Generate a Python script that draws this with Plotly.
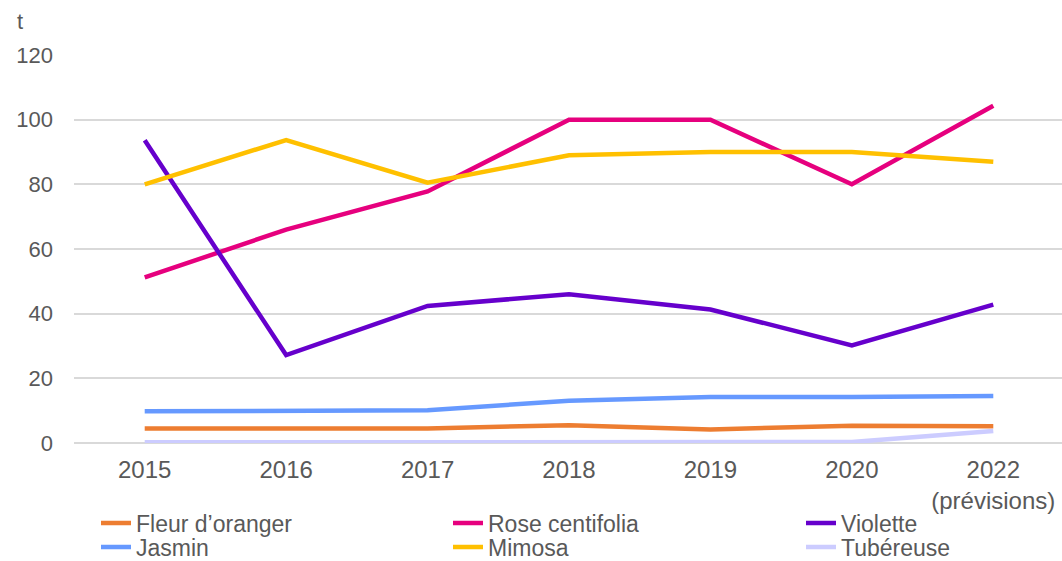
import plotly.graph_objects as go

categories = ["2015", "2016", "2017", "2018", "2019", "2020", "2022<br>(prévisions)"]

fleur_oranger = [4.5, 4.5, 4.5, 5.5, 4.2, 5.3, 5.2]
rose_centifolia = [51.2, 66, 77.8, 100, 100, 80, 104.3]
violette = [93.6, 27.2, 42.4, 46, 41.3, 30.2, 42.8]
jasmin = [9.8, 9.8, 10.1, 13.1, 14.2, 14.2, 14.5]
mimosa = [80, 93.7, 80.5, 89, 90, 90, 87]
tubereuse = [0.2, 0.2, 0.2, 0.3, 0.3, 0.3, 3.7]

series = [
    ("Fleur d’oranger", fleur_oranger, "#ED7D31"),
    ("Rose centifolia", rose_centifolia, "#E6007E"),
    ("Violette", violette, "#6600CC"),
    ("Jasmin", jasmin, "#6699FF"),
    ("Mimosa", mimosa, "#FFC000"),
    ("Tubéreuse", tubereuse, "#CCCCFF"),
]

x_idx = list(range(len(categories)))
legend_ids = ["legend", "legend2", "legend3", "legend4", "legend5", "legend6"]

fig = go.Figure()
for (name, vals, color), lg in zip(series, legend_ids):
    fig.add_trace(go.Scatter(
        x=x_idx, y=vals, name=name, mode="lines",
        line=dict(color=color, width=4.5), legend=lg,
    ))

font_family = "Liberation Sans, Arial, sans-serif"
grey = "#595959"

PL, PR, PT, PB = 74, 1062, 55, 443  # plot area pixel edges
PH = PB - PT
PW = PR - PL

def legend_cfg(xpix, ycenter):
    return dict(
        orientation="v", x=(xpix - PL) / PW, y=(PB - ycenter) / PH,
        xanchor="left", yanchor="middle",
        font=dict(size=23, color=grey, family=font_family),
        itemwidth=30, tracegroupgap=0,
        bgcolor="rgba(0,0,0,0)",
    )

col_x = [96, 448, 801]
row_y = [523, 547]
legends = {}
for i, lg in enumerate(legend_ids):
    legends[lg] = legend_cfg(col_x[i % 3], row_y[i // 3])

fig.update_layout(
    width=1062, height=561,
    margin=dict(l=PL, r=1062 - PR, t=PT, b=561 - PB, autoexpand=False),
    paper_bgcolor="white", plot_bgcolor="white",
    font=dict(family=font_family, color=grey, size=22),
    showlegend=True,
    xaxis=dict(
        range=[-0.5, 6.5 - 2 / 141.3],
        tickmode="array", tickvals=x_idx, ticktext=categories,
        showgrid=False, zeroline=False, showline=False,
        ticks="", tickfont=dict(size=24, color=grey),
        ticklabelstandoff=10,
    ),
    yaxis=dict(
        range=[0, 120], tickmode="linear", tick0=0, dtick=20,
        showgrid=True, gridcolor="#D9D9D9", gridwidth=1.5,
        zeroline=True, zerolinecolor="#D9D9D9", zerolinewidth=1.5,
        showline=False, ticks="", ticklabelstandoff=20,
        tickfont=dict(size=22, color=grey),
    ),
    annotations=[dict(
        text="t", xref="paper", yref="paper", x=(20 - PL) / PW, y=(PB - 36) / PH,
        xanchor="center", yanchor="bottom", showarrow=False,
        font=dict(size=22, color=grey),
    )],
    **legends,
)

fig.write_html("out.html", config={"displayModeBar": False},
               post_script="document.body.style.margin='0';")
